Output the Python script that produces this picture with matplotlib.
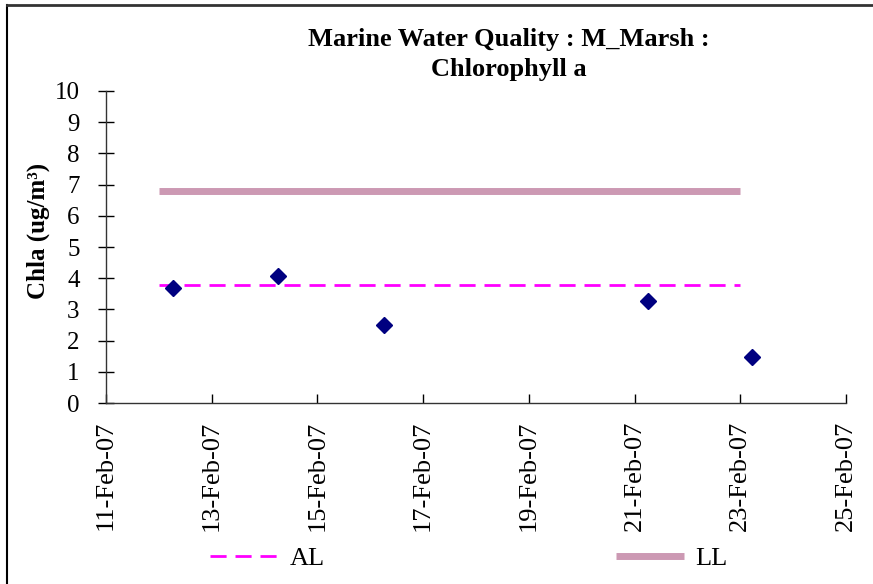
import matplotlib
matplotlib.use("Agg")
import matplotlib.pyplot as plt
import matplotlib.dates as mdates
from matplotlib.lines import Line2D
from datetime import datetime

# sample data
sample_dates = [datetime(2007, 2, 12, 6, 30), datetime(2007, 2, 14, 6, 0),
                datetime(2007, 2, 16, 6, 15), datetime(2007, 2, 21, 6, 0),
                datetime(2007, 2, 23, 5, 30)]
chla = [3.7, 4.07, 2.5, 3.27, 1.48]

# limit lines
limit_dates = [datetime(2007, 2, 12), datetime(2007, 2, 23)]
al_values = [3.78, 3.78]
ll_values = [6.8, 6.8]

x_start = datetime(2007, 2, 11)
x_end = datetime(2007, 2, 25)

plt.rcParams['font.family'] = ['Liberation Serif', 'DejaVu Serif']

fig = plt.figure(figsize=(8.73, 5.84), dpi=100)
ax = fig.add_axes([0.1214, 0.3099, 0.8476, 0.5343])

ax.plot(limit_dates, ll_values, color='#CC99B3', lw=5, solid_capstyle='butt', label='LL')
ax.plot(limit_dates, al_values, color='#FF00FF', lw=2, dashes=(5.8, 3.2), label='AL')
ax.plot(sample_dates, chla, linestyle='none', marker='D', ms=8.5, color='#000080')

ax.set_xlim(x_start, x_end)
ax.set_ylim(0, 10)
ax.set_yticks(range(0, 11))
ax.xaxis.set_major_locator(mdates.DayLocator(interval=2))
ax.xaxis.set_major_formatter(mdates.DateFormatter('%d-%b-%y'))
for lbl in ax.get_xticklabels():
    lbl.set_rotation(90)

ax.tick_params(axis='y', direction='inout', length=12, width=1, labelsize=18, pad=13)
ax.tick_params(axis='x', direction='in', length=6.5, width=1, labelsize=19, pad=13)
ax.spines['top'].set_visible(False)
ax.spines['right'].set_visible(False)
for s in ['left', 'bottom']:
    ax.spines[s].set_color('#333333')
    ax.spines[s].set_linewidth(1)

ax.set_ylabel('Chla (ug/m³)', fontsize=18, fontweight='bold')
ax.yaxis.set_label_coords(-0.075, 0.55)

fig.text(0.583, 0.907, 'Marine Water Quality : M_Marsh :\nChlorophyll a',
         ha='center', va='center', fontsize=19, fontweight='bold', linespacing=1.42)

handles = [Line2D([], [], color='#FF00FF', lw=2, dashes=(5.8, 3.2)),
           Line2D([], [], color='#CC99B3', lw=5, solid_capstyle='butt')]
fig.legend(handles, ['AL', 'LL'], ncol=2, frameon=False, fontsize=19,
           loc='center left', bbox_to_anchor=(0.226, 0.044),
           handlelength=2.6, handletextpad=0.42, columnspacing=11.0, borderpad=0)

# outer frame (left and top edges)
fig.add_artist(Line2D([0.008, 0.008], [0, 0.992], color='black', lw=1.5))
fig.add_artist(Line2D([0.008, 1], [0.992, 0.992], color='#333333', lw=2))

fig.savefig('out.png', dpi=100)
